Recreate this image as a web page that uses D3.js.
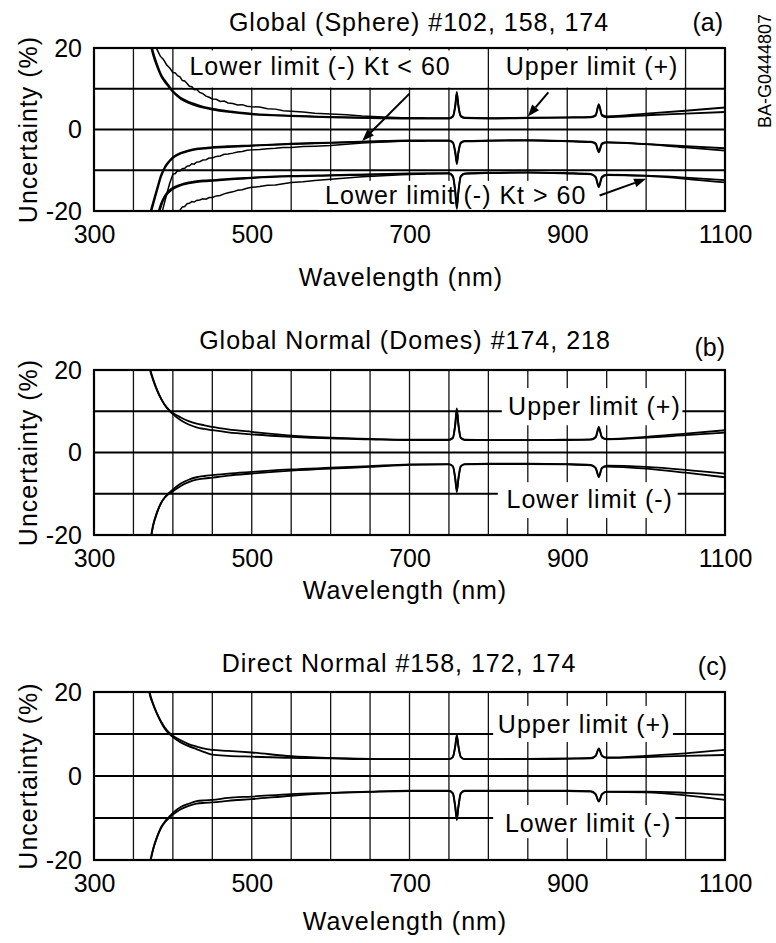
<!DOCTYPE html>
<html lang="en">
<head>
  <meta charset="utf-8" />
  <script src="https://d3js.org/d3.v7.min.js"></script>
<style>
body {
  margin: 0;
  background: #fff;
  font-family: 'Liberation Sans', Arial, sans-serif;
}
</style>
</head>
<body>
<div id="chart"></div>
<script>
// wavelength grid (nm) shared by the main traces
var wl = [360, 365, 370, 375, 380, 385, 390, 395, 400, 410, 420, 430, 440, 450, 470, 500, 550, 600, 650,
  700, 750, 755, 758, 760, 762, 765, 770, 800, 850, 900, 930, 936, 940, 944, 950, 1000, 1050, 1100];

// (a) Global (Sphere)
var aUp1 = [40, 32, 24, 19.0, 16.0, 13.5, 12.0, 10.7, 9.4, 7.8, 6.8, 6.1, 5.5, 5.1, 4.5, 3.9, 3.4, 3.1, 2.9,
  2.8, 2.8, 3.3, 6.0, 9.2, 6.0, 3.4, 2.9, 2.8, 2.9, 3.0, 3.1, 3.6, 6.2, 3.6, 3.2, 3.9, 4.6, 5.4];
var aUp2 = [38, 30, 22.5, 18.2, 15.4, 13.1, 11.6, 10.4, 9.2, 7.5, 6.5, 5.8, 5.3, 4.9, 4.3, 3.7, 3.3, 3.0, 2.8,
  2.7, 2.7, 3.1, 5.6, 8.8, 5.6, 3.2, 2.8, 2.7, 2.8, 2.9, 3.0, 3.4, 5.9, 3.4, 3.0, 3.5, 3.9, 4.3];
var aLo1 = [-40, -30, -22.5, -18.5, -15.0, -11.6, -9.4, -8.0, -7.0, -5.9, -5.3, -4.9, -4.7, -4.5, -4.3, -4.0, -3.6, -3.3, -3.0,
  -2.8, -2.8, -3.3, -5.8, -8.5, -5.8, -3.4, -2.9, -2.8, -2.7, -2.9, -3.1, -3.6, -5.6, -3.6, -3.2, -3.6, -4.1, -4.6];
var aLo2 = [-38, -28, -21.5, -17.8, -14.4, -11.2, -9.1, -7.8, -6.8, -5.7, -5.1, -4.7, -4.5, -4.3, -4.1, -3.9, -3.5, -3.2, -2.9,
  -2.7, -2.7, -3.1, -5.4, -8.0, -5.4, -3.2, -2.8, -2.7, -2.6, -2.8, -3.0, -3.4, -5.2, -3.4, -3.1, -3.6, -4.4, -5.2];
var aKt1 = [-50, -42, -34, -28, -22.5, -18.8, -16.6, -15.4, -14.6, -13.7, -13.2, -12.9, -12.7, -12.6, -12.3, -11.9, -11.5, -11.3, -11.1,
  -10.9, -10.8, -11.6, -15.5, -19.5, -15.5, -11.6, -10.9, -10.7, -10.6, -10.8, -11.0, -11.8, -14.2, -11.8, -11.2, -11.3, -11.8, -12.4];
var aKt2 = [-48, -40, -32, -26, -21.5, -18.2, -16.2, -15.0, -14.3, -13.5, -13.0, -12.7, -12.5, -12.4, -12.1, -11.8, -11.4, -11.2, -11.0,
  -10.8, -10.7, -11.4, -15.0, -18.8, -15.0, -11.4, -10.8, -10.6, -10.5, -10.7, -10.9, -11.6, -13.8, -11.6, -11.1, -11.4, -12.1, -13.0];

// (a) the three noisier instrument traces in the blue end
var wlNoisy = [376, 380, 384, 388, 392, 396, 400, 403, 406, 409, 412, 415, 418, 421, 424, 427, 430, 434, 438, 442, 446, 450,
  455, 460, 465, 470, 476, 482, 488, 494, 500, 510, 520, 530, 540, 550, 565, 580, 600, 620, 640, 660, 690, 720];
var aUpN = [21, 19.6, 18.0, 17.2, 15.9, 15.1, 14.0, 13.9, 13.2, 12.9, 12.0, 11.9, 11.3, 10.6, 10.5, 9.8, 9.9, 9.1, 8.8, 8.2, 7.9, 7.5,
  7.4, 6.9, 7.0, 6.5, 6.4, 6.0, 6.1, 5.7, 5.6, 5.5, 5.1, 5.0, 4.6, 4.5, 4.3, 4.0, 3.8, 3.6, 3.3, 3.1, 2.9, 2.8];
var aLoN = [-30, -26, -22, -19, -16, -13.2, -11.0, -10.8, -10.1, -10.2, -9.6, -9.5, -9.0, -8.9, -8.4, -8.5, -8.0, -7.9, -7.5, -7.4, -7.0, -7.0,
  -6.6, -6.5, -6.1, -6.0, -5.8, -5.5, -5.4, -5.1, -5.0, -4.9, -4.7, -4.6, -4.4, -4.4, -4.2, -4.1, -3.9, -3.6, -3.3, -3.1, -2.9, -2.8];
var aKtN = [-40, -36, -32, -29, -26, -24, -22.5, -21.5, -20.6, -19.8, -19.0, -18.9, -18.2, -18.1, -17.7, -17.8, -17.4, -17.3, -17.0, -17.1, -16.7, -16.7,
  -16.3, -16.2, -15.8, -15.5, -15.3, -14.9, -14.8, -14.4, -14.2, -14.0, -13.7, -13.6, -13.3, -13.0, -12.8, -12.5, -12.2, -11.9, -11.6, -11.4, -11.1, -10.9];

// (b) Global Normal (Domes)
var bUp1 = [40, 30, 21.5, 17.8, 15.2, 13.1, 11.4, 10.2, 9.3, 7.8, 6.8, 6.1, 5.7, 5.4, 4.9, 4.4, 3.8, 3.4, 3.2,
  3.0, 3.0, 3.6, 7.0, 10.7, 7.0, 3.6, 3.0, 3.0, 3.0, 3.1, 3.2, 3.8, 6.2, 3.8, 3.3, 3.8, 4.6, 5.4];
var bUp2 = [39, 29, 21.0, 17.5, 15.0, 13.0, 11.5, 10.4, 9.6, 8.5, 7.6, 7.0, 6.6, 6.2, 5.6, 5.0, 4.1, 3.6, 3.3,
  3.1, 3.1, 3.5, 6.6, 10.2, 6.6, 3.5, 3.1, 3.0, 3.0, 3.0, 3.1, 3.6, 5.8, 3.6, 3.2, 3.6, 4.2, 4.8];
var bLo1 = [-40, -30, -23.5, -17.8, -14.6, -12.3, -10.8, -9.8, -9.0, -7.5, -6.6, -6.0, -5.7, -5.5, -5.1, -4.7, -4.1, -3.7, -3.3,
  -2.9, -2.8, -3.4, -6.5, -9.6, -6.5, -3.4, -2.8, -2.7, -2.7, -2.8, -3.0, -3.8, -6.0, -3.8, -3.2, -3.5, -4.2, -5.1];
var bLo2 = [-39, -29, -23, -17.5, -14.4, -12.2, -10.9, -10.0, -9.4, -8.1, -7.2, -6.6, -6.3, -6.1, -5.6, -5.1, -4.4, -3.9, -3.5,
  -3.0, -2.9, -3.3, -6.2, -9.2, -6.2, -3.3, -2.9, -2.8, -2.8, -2.9, -3.1, -3.7, -5.7, -3.7, -3.4, -3.9, -4.9, -6.0];

// (c) Direct Normal
var cUp1 = [40, 28, 20.5, 17.2, 14.8, 12.8, 11.2, 10.1, 9.3, 8.0, 7.1, 6.4, 5.7, 5.1, 4.8, 4.6, 4.3, 4.2, 4.0,
  4.0, 4.0, 4.6, 7.2, 9.8, 7.2, 4.6, 4.0, 4.0, 4.0, 4.1, 4.2, 4.8, 6.6, 4.8, 4.3, 4.5, 4.8, 5.0];
var cUp2 = [39, 27.5, 20.0, 17.0, 14.8, 13.0, 11.5, 10.4, 9.6, 8.5, 7.6, 7.0, 6.5, 6.2, 6.0, 5.6, 4.7, 4.3, 4.1,
  4.0, 4.0, 4.5, 7.0, 9.5, 7.0, 4.5, 4.0, 4.0, 4.1, 4.2, 4.3, 4.8, 6.4, 4.8, 4.4, 4.8, 5.4, 6.2];
var cLo1 = [-40, -29, -22, -17.5, -14.5, -12.2, -10.8, -9.8, -8.8, -7.4, -6.6, -6.0, -5.8, -5.7, -5.2, -4.9, -4.3, -4.0, -3.7,
  -3.5, -3.5, -4.2, -7.5, -10.5, -7.5, -4.2, -3.5, -3.5, -3.5, -3.5, -3.6, -4.3, -6.1, -4.3, -3.7, -3.7, -4.0, -4.5];
var cLo2 = [-39, -28.5, -21.5, -17.3, -14.5, -12.4, -11.0, -10.0, -9.2, -7.9, -7.1, -6.6, -6.4, -6.3, -5.9, -5.5, -4.7, -4.1, -3.8,
  -3.6, -3.6, -4.1, -7.2, -10.1, -7.2, -4.1, -3.6, -3.6, -3.6, -3.6, -3.7, -4.4, -6.0, -4.4, -3.8, -3.9, -4.6, -5.7];

var xTicks = [300, 500, 700, 900, 1100];
var yTicks = [-20, 0, 20];
var hLines = [-10, 0, 10];

var width = 776;
var height = 943;
var left = 94;
var right = 725;

var panels = [
  {top: 48, bottom: 211, title: "Global (Sphere) #102, 158, 174", titleX: 419, titleY: 31, tag: "(a)", tagX: 723, tagY: 31, xLabY: 286, xLabX: 401,
   lines: [aUp1, aUp2, aLo1, aLo2, aKt1, aKt2],
   noisy: [aUpN, aLoN, aKtN],
   boxes: [
     {x0: 412, x1: 798, y0: 19.4, y1: 10.3, text: "Lower limit (-) Kt < 60", tx: 421, ty: 13.4},
     {x0: 802, x1: 1048, y0: 19.4, y1: 10.3, text: "Upper limit (+)", tx: 822, ty: 13.4},
     {x0: 584, x1: 941, y0: -12.6, y1: -19.7, text: "Lower limit (-) Kt > 60", tx: 593, ty: -18.2}
   ],
   arrows: [
     {x0: 700, y0: 8.8, x1: 640, y1: -2.8},
     {x0: 876, y0: 9.1, x1: 850, y1: 3.2},
     {x0: 941, y0: -16.2, x1: 1000, y1: -12.1}
   ]},
  {top: 370, bottom: 535, title: "Global Normal (Domes) #174, 218", titleX: 405, titleY: 349, tag: "(b)", tagX: 725, tagY: 356, xLabY: 599, xLabX: 405,
   lines: [bUp1, bUp2, bLo1, bLo2],
   noisy: [],
   boxes: [
     {x0: 817, x1: 1046, y0: 15.6, y1: 6.6, text: "Upper limit (+)", tx: 825, ty: 9.1},
     {x0: 812, x1: 1040, y0: -7.2, y1: -15.9, text: "Lower limit (-)", tx: 823, ty: -13.5}
   ],
   arrows: []},
  {top: 692, bottom: 860, title: "Direct Normal #158, 172, 174", titleX: 399, titleY: 672, tag: "(c)", tagX: 727, tagY: 675, xLabY: 930, xLabX: 405,
   lines: [cUp1, cUp2, cLo1, cLo2],
   noisy: [],
   boxes: [
     {x0: 806, x1: 1034, y0: 16.7, y1: 8.1, text: "Upper limit (+)", tx: 812, ty: 10.2},
     {x0: 806, x1: 1037, y0: -6.9, y1: -14.8, text: "Lower limit (-)", tx: 821, ty: -13.3}
   ],
   arrows: []}
];

var svg = d3.select('#chart')
  .append('svg')
  .attr('width', width)
  .attr('height', height)
  .style('font-family', "'Liberation Sans', Arial, sans-serif");

var x = d3.scaleLinear().domain([300, 1100]).range([left, right]);

svg.append('text')
  .attr('transform', 'translate(771,71) rotate(-90)')
  .attr('text-anchor', 'middle')
  .attr('font-size', 18)
  .text('BA-G0444807');

panels.forEach(function(p, i) {
  var y = d3.scaleLinear().domain([-20, 20]).range([p.bottom, p.top]);
  var g = svg.append('g');

  var clipId = 'clip' + i;
  svg.append('clipPath').attr('id', clipId)
    .append('rect')
    .attr('x', left).attr('y', p.top)
    .attr('width', right - left).attr('height', p.bottom - p.top);

  // vertical grid every 50 nm
  g.selectAll('.vgrid')
    .data(x.ticks(16).slice(1, -1))
    .enter().append('line')
    .attr('x1', function(d) { return x(d); })
    .attr('x2', function(d) { return x(d); })
    .attr('y1', p.top).attr('y2', p.bottom)
    .attr('stroke', '#111').attr('stroke-width', 1.3);

  g.selectAll('.hgrid')
    .data(hLines)
    .enter().append('line')
    .attr('x1', left).attr('x2', right)
    .attr('y1', function(d) { return y(d); })
    .attr('y2', function(d) { return y(d); })
    .attr('stroke', '#000').attr('stroke-width', 2.2);

  g.append('rect')
    .attr('x', left).attr('y', p.top)
    .attr('width', right - left).attr('height', p.bottom - p.top)
    .attr('fill', 'none').attr('stroke', '#000').attr('stroke-width', 2.2);

  // white label boxes hide the grid behind the notes
  g.selectAll('.box')
    .data(p.boxes)
    .enter().append('rect')
    .attr('x', function(d) { return x(d.x0); })
    .attr('y', function(d) { return y(d.y0); })
    .attr('width', function(d) { return x(d.x1) - x(d.x0); })
    .attr('height', function(d) { return y(d.y1) - y(d.y0); })
    .attr('fill', '#fff');

  var line = d3.line()
    .x(function(d) { return x(d[0]); })
    .y(function(d) { return y(d[1]); })
    .curve(d3.curveMonotoneX);

  var traces = g.append('g').attr('clip-path', 'url(#' + clipId + ')');
  p.lines.forEach(function(vals) {
    traces.append('path')
      .attr('d', line(d3.zip(wl, vals)))
      .attr('fill', 'none').attr('stroke', '#000').attr('stroke-width', 1.8);
  });
  p.noisy.forEach(function(vals) {
    traces.append('path')
      .attr('d', line.curve(d3.curveLinear)(d3.zip(wlNoisy, vals)))
      .attr('fill', 'none').attr('stroke', '#000').attr('stroke-width', 1.5);
  });

  g.selectAll('.note')
    .data(p.boxes)
    .enter().append('text')
    .attr('x', function(d) { return x(d.tx); })
    .attr('y', function(d) { return y(d.ty); })
    .attr('font-size', 25)
    .attr('letter-spacing', 1)
    .text(function(d) { return d.text; });

  p.arrows.forEach(function(a) {
    var x0 = x(a.x0), y0 = y(a.y0), x1 = x(a.x1), y1 = y(a.y1);
    var ang = Math.atan2(y1 - y0, x1 - x0);
    var len = 12, w = 4.5;
    var bx = x1 - len * Math.cos(ang), by = y1 - len * Math.sin(ang);
    g.append('line')
      .attr('x1', x0).attr('y1', y0).attr('x2', bx).attr('y2', by)
      .attr('stroke', '#000').attr('stroke-width', 2);
    g.append('path')
      .attr('d', 'M' + x1 + ',' + y1 +
        'L' + (bx + w * Math.sin(ang)) + ',' + (by - w * Math.cos(ang)) +
        'L' + (bx - w * Math.sin(ang)) + ',' + (by + w * Math.cos(ang)) + 'Z')
      .attr('fill', '#000');
  });

  // axes: only the labels, the frame is drawn above
  var fmt = function(d) { return String(d); };
  var xAxis = g.append('g')
    .attr('transform', 'translate(0,' + p.bottom + ')')
    .call(d3.axisBottom(x).tickValues(xTicks).tickFormat(fmt).tickSize(0).tickPadding(14));
  var yAxis = g.append('g')
    .attr('transform', 'translate(' + left + ',0)')
    .call(d3.axisLeft(y).tickValues(yTicks).tickFormat(fmt).tickSize(0).tickPadding(12));
  [xAxis, yAxis].forEach(function(ax) {
    ax.select('.domain').remove();
    ax.selectAll('text').attr('font-size', 25).attr('fill', '#000')
      .attr('font-family', "'Liberation Sans', Arial, sans-serif");
  });

  g.append('text')
    .attr('x', p.titleX).attr('y', p.titleY)
    .attr('text-anchor', 'middle')
    .attr('font-size', 25).attr('letter-spacing', 1)
    .text(p.title);

  g.append('text')
    .attr('x', p.tagX).attr('y', p.tagY)
    .attr('text-anchor', 'end')
    .attr('font-size', 25)
    .text(p.tag);

  g.append('text')
    .attr('x', p.xLabX).attr('y', p.xLabY)
    .attr('text-anchor', 'middle')
    .attr('font-size', 25).attr('letter-spacing', 1)
    .text('Wavelength (nm)');

  g.append('text')
    .attr('transform', 'translate(37,' + (p.top + p.bottom) / 2 + ') rotate(-90)')
    .attr('text-anchor', 'middle')
    .attr('font-size', 25).attr('letter-spacing', 1)
    .text('Uncertainty (%)');
});
</script>
</body>
</html>
